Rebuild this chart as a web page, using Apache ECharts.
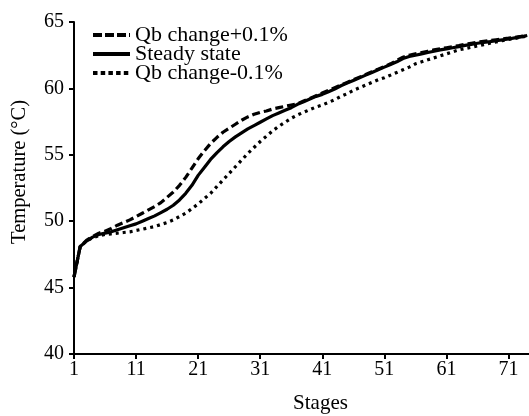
<!DOCTYPE html>
<html>
<head>
<meta charset="utf-8">
<script src="https://cdn.jsdelivr.net/npm/echarts@6/dist/echarts.min.js"></script>
<style>
	html, body { margin: 0; padding: 0; background: #fff; }
	#chart { width: 529px; height: 416px; }
</style>
</head>
<body>
<div id="chart"></div>
<script>
const stages = [1, 2, 3, 4, 5, 6, 7, 8, 9, 10, 11, 12, 13, 14, 15, 16, 17, 18, 19, 20,
	21, 22, 23, 24, 25, 26, 27, 28, 29, 30, 31, 32, 33, 34, 35, 36, 37, 38, 39, 40,
	41, 42, 43, 44, 45, 46, 47, 48, 49, 50, 51, 52, 53, 54, 55, 56, 57, 58, 59, 60,
	61, 62, 63, 64, 65, 66, 67, 68, 69, 70, 71, 72, 73, 74]

const qbPlus = [45.8, 48.1, 48.55, 48.85, 49.1, 49.25, 49.45, 49.7, 49.9, 50.1,
	50.35, 50.6, 50.85, 51.1, 51.4, 51.8, 52.2, 52.7, 53.3, 54.0,
	54.7, 55.3, 55.85, 56.3, 56.7, 57.0, 57.3, 57.6, 57.85, 58.05,
	58.2, 58.3, 58.45, 58.55, 58.65, 58.75, 58.85, 59.05, 59.25, 59.45,
	59.65, 59.85, 60.05, 60.25, 60.45, 60.65, 60.85, 61.05, 61.25, 61.45,
	61.65, 61.85, 62.1, 62.35, 62.5, 62.6, 62.7, 62.8, 62.9, 62.98,
	63.06, 63.14, 63.22, 63.32, 63.4, 63.48, 63.54, 63.6, 63.66, 63.72,
	63.78, 63.85, 63.92, 64.0]

const steady = [45.8, 48.1, 48.5, 48.8, 49.0, 49.1, 49.2, 49.35, 49.5, 49.65,
	49.8, 50.0, 50.2, 50.4, 50.65, 50.9, 51.2, 51.6, 52.1, 52.7,
	53.45, 54.05, 54.65, 55.15, 55.6, 56.0, 56.35, 56.65, 56.95, 57.2,
	57.45, 57.7, 57.95, 58.15, 58.35, 58.55, 58.8, 59.0, 59.2, 59.4,
	59.55, 59.75, 59.95, 60.2, 60.4, 60.6, 60.8, 61.0, 61.2, 61.4,
	61.6, 61.8, 62.0, 62.25, 62.4, 62.5, 62.6, 62.7, 62.8, 62.9,
	62.98, 63.06, 63.14, 63.24, 63.32, 63.4, 63.46, 63.52, 63.6, 63.66,
	63.72, 63.8, 63.88, 63.98]

const qbMinus = [45.8, 48.1, 48.5, 48.75, 48.9, 49.0, 49.05, 49.1, 49.15, 49.2,
	49.3, 49.4, 49.5, 49.6, 49.75, 49.9, 50.1, 50.35, 50.6, 50.95,
	51.3, 51.7, 52.1, 52.6, 53.1, 53.6, 54.1, 54.6, 55.1, 55.55,
	56.0, 56.4, 56.8, 57.15, 57.45, 57.75, 58.0, 58.2, 58.4, 58.6,
	58.75, 58.95, 59.15, 59.4, 59.6, 59.85, 60.05, 60.25, 60.45, 60.65,
	60.8, 61.0, 61.2, 61.4, 61.6, 61.85, 62.0, 62.15, 62.3, 62.45,
	62.6, 62.75, 62.9, 63.0, 63.1, 63.2, 63.3, 63.4, 63.5, 63.6,
	63.68, 63.76, 63.86, 63.95]

const xTicks = [1, 11, 21, 31, 41, 51, 61, 71]
const seriesNames = ['Qb change+0.1%', 'Steady state', 'Qb change-0.1%']

const font = 'Liberation Serif'

function pairs(values) {
	return stages.map((s, i) => [s, values[i]])
}

const myChart = echarts.init(document.getElementById('chart'))

const option = {
	animation: false,
	grid: {
		left: 74,
		right: 0,
		top: 22,
		bottom: 62,
		outerBoundsMode: 'none'
	},
	legend: {
		data: [
			{ name: seriesNames[0], lineStyle: { width: 4, type: [9, 3] } },
			{ name: seriesNames[1], lineStyle: { width: 4, type: 'solid' } },
			{ name: seriesNames[2], lineStyle: { width: 4, type: [4.5, 3.2] } }
		],
		orient: 'vertical',
		left: 86,
		top: 19,
		itemWidth: 37,
		itemHeight: 12,
		itemGap: -3,
		itemTextGap: 13,
		itemStyle: { opacity: 0 },
		textStyle: {
			fontFamily: font,
			fontSize: 22,
			color: '#000',
			lineHeight: 19
		}
	},
	xAxis: {
		type: 'value',
		min: 1,
		max: 74.3,
		name: 'Stages',
		nameLocation: 'middle',
		nameGap: 39,
		nameTextStyle: { fontFamily: font, fontSize: 21, color: '#000', padding: [0, 0, 0, 38] },
		splitLine: { show: false },
		axisLine: { lineStyle: { color: '#000', width: 2 } },
		axisTick: { customValues: xTicks, length: 5, lineStyle: { color: '#000', width: 2 } },
		axisLabel: { customValues: xTicks, fontFamily: font, fontSize: 20, color: '#000', margin: 6 }
	},
	yAxis: {
		type: 'value',
		min: 40,
		max: 65,
		interval: 5,
		name: 'Temperature (°C)',
		nameLocation: 'middle',
		nameGap: 44,
		nameTextStyle: { fontFamily: font, fontSize: 20.5, color: '#000', padding: [0, 0, 0, 32] },
		splitLine: { show: false },
		axisLine: { show: true, lineStyle: { color: '#000', width: 2 } },
		axisTick: { show: true, length: 5, lineStyle: { color: '#000', width: 2 } },
		axisLabel: { fontFamily: font, fontSize: 20, color: '#000', margin: 10 }
	},
	series: [
		{
			name: seriesNames[0],
			type: 'line',
			data: pairs(qbPlus),
			symbol: 'none',
			itemStyle: { color: '#000' },
			lineStyle: { color: '#000', width: 3.2, type: [8, 4] }
		},
		{
			name: seriesNames[1],
			type: 'line',
			data: pairs(steady),
			symbol: 'none',
			itemStyle: { color: '#000' },
			lineStyle: { color: '#000', width: 3.2, type: 'solid' }
		},
		{
			name: seriesNames[2],
			type: 'line',
			data: pairs(qbMinus),
			symbol: 'none',
			itemStyle: { color: '#000' },
			lineStyle: { color: '#000', width: 3.2, type: [3, 4] }
		}
	]
}

myChart.setOption(option)
</script>
</body>
</html>
